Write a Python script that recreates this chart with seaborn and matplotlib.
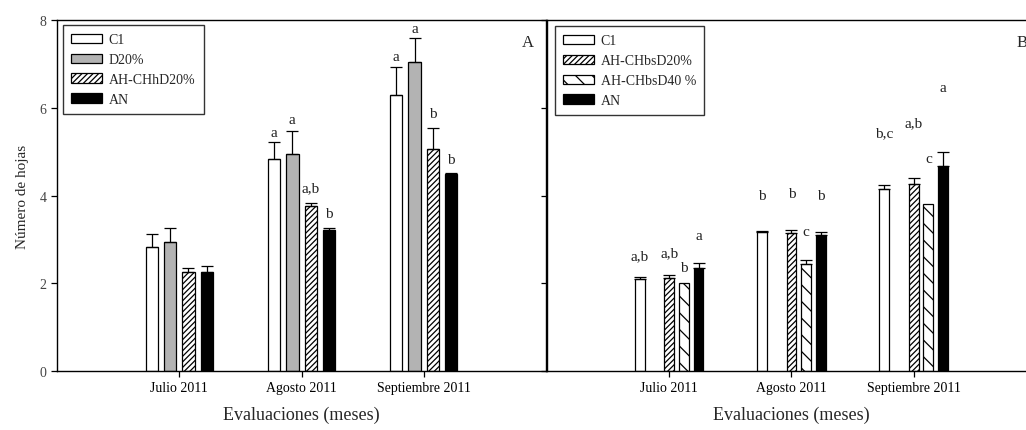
import numpy as np
import pandas as pd
import matplotlib
matplotlib.use("Agg")
import matplotlib.pyplot as plt
import seaborn as sns

months = ["Julio 2011", "Agosto 2011", "Septiembre 2011"]

# ---- Panel A: mean leaf number and standard error ----
a_c1 = [2.83, 4.83, 6.29]
a_d20 = [2.95, 4.94, 7.05]
a_ahch = [2.26, 3.75, 5.07]
a_an = [2.26, 3.21, 4.50]

a_c1_err = [0.29, 0.40, 0.63]
a_d20_err = [0.30, 0.53, 0.54]
a_ahch_err = [0.09, 0.07, 0.48]
a_an_err = [0.14, 0.05, 0.02]

a_c1_let = ["", "a", "a"]
a_d20_let = ["", "a", "a"]
a_ahch_let = ["", "a,b", "b"]
a_an_let = ["", "b", "b"]

a_c1_let_y = [0, 5.44, 7.16]
a_d20_let_y = [0, 5.74, 7.81]
a_ahch_let_y = [0, 4.19, 5.88]
a_an_let_y = [0, 3.60, 4.83]

# ---- Panel B ----
b_c1 = [2.10, 3.16, 4.15]
b_ah20 = [2.12, 3.14, 4.26]
b_ah40 = [2.01, 2.44, 3.80]
b_an = [2.34, 3.10, 4.68]

b_c1_err = [0.05, 0.02, 0.09]
b_ah20_err = [0.07, 0.07, 0.15]
b_ah40_err = [0.0, 0.09, 0.0]
b_an_err = [0.13, 0.06, 0.32]

b_c1_let = ["a,b", "b", "b,c"]
b_ah20_let = ["a,b", "b", "a,b"]
b_ah40_let = ["b", "c", "c"]
b_an_let = ["a", "b", "a"]

b_c1_let_y = [2.62, 4.01, 5.44]
b_ah20_let_y = [2.69, 4.05, 5.67]
b_ah40_let_y = [2.35, 3.17, 4.85]
b_an_let_y = [3.08, 4.01, 6.47]

sns.set_style("ticks")
plt.rcParams["font.family"] = ["Liberation Serif", "DejaVu Serif"]
plt.rcParams["hatch.linewidth"] = 0.9
plt.rcParams["hatch.color"] = "black"

fig = plt.figure(figsize=(10.26, 4.31), dpi=100)
ax_a = fig.add_axes([0.0556, 0.137, 0.4766, 0.814])
ax_b = fig.add_axes([0.5331, 0.137, 0.4766, 0.814])


def panel(ax, slots, series, face, hatch, legend_pos, tag, tag_x):
    rows = []
    for name, (vals, _, _, _) in series.items():
        for m, v in zip(months, vals):
            rows.append((m, name, v))
    df = pd.DataFrame(rows, columns=["mes", "trat", "hojas"])
    sns.barplot(data=df, x="mes", y="hojas", hue="trat", order=months,
                hue_order=slots, palette=face, width=0.6, gap=0.33,
                edgecolor="black", linewidth=0.9, errorbar=None,
                legend=False, saturation=1, ax=ax)
    filled = [c for c in ax.containers if len(c.patches) > 0]
    present = [s for s in slots if s in series]
    handles = []
    for name, cont in zip(present, filled):
        _, err, lets, let_y = series[name]
        bars = sorted(cont.patches, key=lambda p: p.get_x())
        for bar, e, lab, ly in zip(bars, err, lets, let_y):
            bar.set_hatch(hatch[name])
            cx = bar.get_x() + bar.get_width() / 2
            top = bar.get_height()
            if e > 0:
                ax.errorbar(cx, top, yerr=[[0], [e]], fmt="none", ecolor="black",
                            elinewidth=0.9, capsize=4, capthick=0.9, zorder=3)
            if lab:
                ax.text(cx, ly, lab, ha="center", va="center", fontsize=11,
                        color="#222222")
        handles.append(bars[0])

    ax.set_xlim(-1, 3)
    ax.set_ylim(0, 8)
    ax.set_yticks([0, 2, 4, 6, 8])
    ax.tick_params(direction="out", length=4, width=0.9, labelsize=10,
                   colors="black")
    ax.tick_params(axis="y", labelcolor="#444444")
    for s in ax.spines.values():
        s.set_visible(True)
        s.set_color("black")
        s.set_linewidth(1.0)
    ax.set_xlabel("Evaluaciones (meses)", fontsize=13, labelpad=8)
    leg = ax.legend(handles, present, loc="upper left",
                    bbox_to_anchor=legend_pos, borderaxespad=0, fontsize=10,
                    frameon=True, fancybox=False, edgecolor="black",
                    handlelength=2.2, handleheight=0.65, handletextpad=0.5,
                    labelspacing=0.49, borderpad=0.6)
    leg.get_frame().set_linewidth(1.0)
    ax.text(tag_x, 0.937, tag, transform=ax.transAxes, ha="center",
            va="center", fontsize=12)


panel(ax_a,
      ["C1", "D20%", "AH-CHhD20%", "AN"],
      {"C1": (a_c1, a_c1_err, a_c1_let, a_c1_let_y),
       "D20%": (a_d20, a_d20_err, a_d20_let, a_d20_let_y),
       "AH-CHhD20%": (a_ahch, a_ahch_err, a_ahch_let, a_ahch_let_y),
       "AN": (a_an, a_an_err, a_an_let, a_an_let_y)},
      {"C1": "white", "D20%": "#b3b3b3", "AH-CHhD20%": "white", "AN": "black"},
      {"C1": None, "D20%": None, "AH-CHhD20%": "//////", "AN": None},
      (0.012, 0.986), "A", 0.963)

panel(ax_b,
      ["C1", "D20%", "AH-CHbsD20%", "AH-CHbsD40 %", "AN"],
      {"C1": (b_c1, b_c1_err, b_c1_let, b_c1_let_y),
       "AH-CHbsD20%": (b_ah20, b_ah20_err, b_ah20_let, b_ah20_let_y),
       "AH-CHbsD40 %": (b_ah40, b_ah40_err, b_ah40_let, b_ah40_let_y),
       "AN": (b_an, b_an_err, b_an_let, b_an_let_y)},
      {"C1": "white", "D20%": "#b3b3b3", "AH-CHbsD20%": "white",
       "AH-CHbsD40 %": "white", "AN": "black"},
      {"C1": None, "AH-CHbsD20%": "//////", "AH-CHbsD40 %": "\\\\", "AN": None},
      (0.016, 0.983), "B", 0.971)

ax_a.set_ylabel("Número de hojas", fontsize=11, labelpad=8)
ax_b.set_ylabel("")
ax_b.tick_params(axis="y", labelleft=False)

fig.savefig("out.png", dpi=100)
